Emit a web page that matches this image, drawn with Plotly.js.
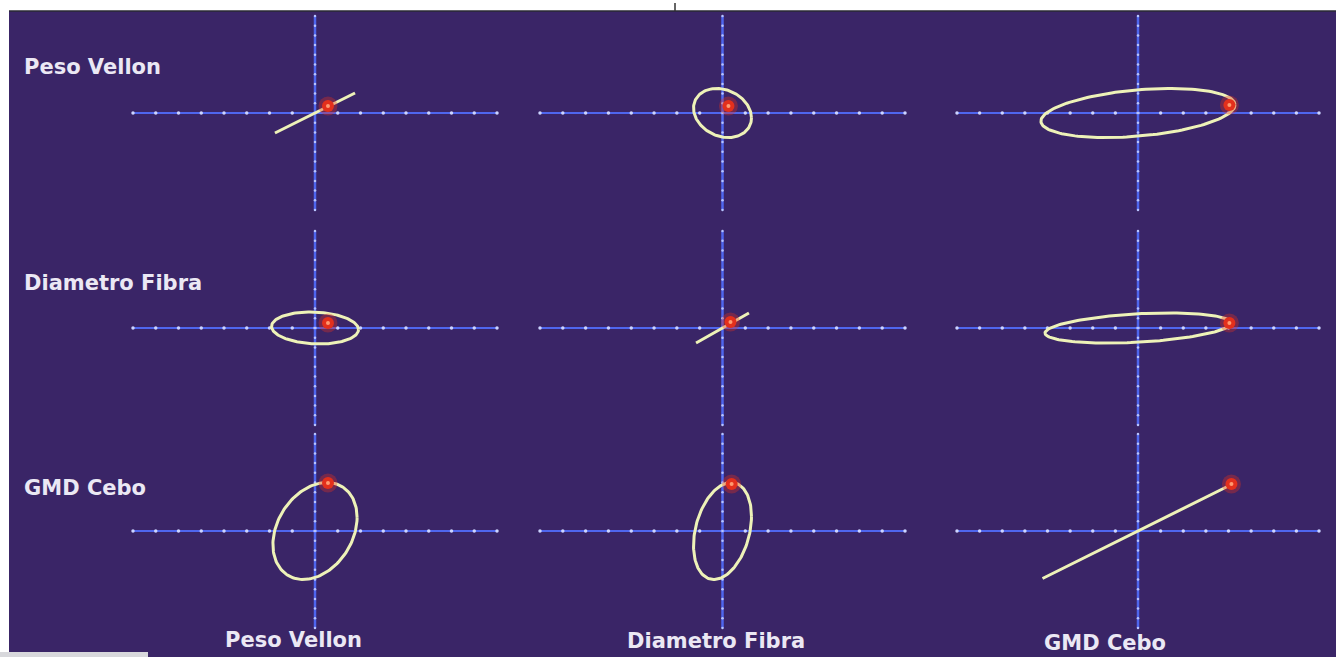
<!DOCTYPE html>
<html>
<head>
<meta charset="utf-8">
<script src="https://cdn.plot.ly/plotly-3.0.1.min.js"></script>
<style>html,body{margin:0;padding:0;background:#fff;}#chart{width:1336px;height:657px;}</style>
</head>
<body>
<div id="chart"></div>
<script>
// ---- data ----
const variables = ["Peso Vellon", "Diametro Fibra", "GMD Cebo"];
const xTicks = [-8,-7,-6,-5,-4,-3,-2,-1,0,1,2,3,4,5,6,7,8];
const yTicks = [-10,-9,-8,-7,-6,-5,-4,-3,-2,-1,0,1,2,3,4,5,6,7,8,9,10];
// panels row-major: row = y variable, column = x variable
const ellipseXAmp = [1.76, 1.27, 4.29, 1.91, 1.16, 4.11, 1.85, 1.27, 4.22];
const ellipseYAmp = [2.06, 2.53, 2.53, 1.65, 1.55, 1.55, 5.00, 5.00, 4.90];
const ellipseCorr = [1.00, -0.20, 0.33, -0.10, 1.00, 0.33, 0.28, 0.30, 1.00];
const dotX = [0.57, 0.26, 4.04, 0.57, 0.35, 4.04, 0.57, 0.40, 4.13];
const dotY = [0.72, 0.72, 0.82, 0.52, 0.62, 0.52, 4.95, 4.85, 4.85];

// ---- layout geometry (pixels) ----
const W = 1336, H = 657;
const px = x => x / W;
const py = y => 1 - y / H;
const colPx = [[133, 497], [540, 905], [957, 1319]];
const rowPx = [[16, 210], [231, 425], [434, 628]];

const bg = '#3a2567';
const axisColor = '#4f66ee';
const tickDot = '#cdd5ff';
const curveColor = '#eef2b8';

const traces = [];
const layout = {
  width: W, height: H,
  margin: {l: 0, r: 0, t: 0, b: 0},
  paper_bgcolor: '#ffffff',
  plot_bgcolor: 'rgba(0,0,0,0)',
  showlegend: false,
  shapes: [
    {type: 'rect', xref: 'paper', yref: 'paper', x0: px(9), x1: 1, y0: 0, y1: py(11),
     fillcolor: bg, line: {width: 0}, layer: 'below'},
    {type: 'line', xref: 'paper', yref: 'paper', x0: px(9), x1: 1, y0: py(11), y1: py(11),
     line: {color: '#2a2a33', width: 1.5}, layer: 'below'},
    {type: 'line', xref: 'paper', yref: 'paper', x0: px(675), x1: px(675), y0: py(3), y1: py(11),
     line: {color: '#333', width: 1.5}, layer: 'below'},
    {type: 'rect', xref: 'paper', yref: 'paper', x0: 0, x1: px(148), y0: 0, y1: py(652),
     fillcolor: '#d8d8dc', line: {width: 0}, layer: 'below'}
  ],
  annotations: []
};

for (let i = 0; i < 9; i++) {
  const r = Math.floor(i / 3), c = i % 3;
  const n = i === 0 ? '' : String(i + 1);
  const xa = 'x' + n, ya = 'y' + n;
  layout['xaxis' + n] = {domain: [px(colPx[c][0]), px(colPx[c][1])], range: [-8, 8],
    visible: false, fixedrange: true, anchor: ya};
  layout['yaxis' + n] = {domain: [py(rowPx[r][1]), py(rowPx[r][0])], range: [-10, 10],
    visible: false, fixedrange: true, anchor: xa};

  // crosshair axes with tick dots
  traces.push({x: xTicks, y: xTicks.map(() => 0), xaxis: xa, yaxis: ya, mode: 'lines+markers',
    line: {color: axisColor, width: 2}, marker: {color: tickDot, size: 3.5},
    hoverinfo: 'skip', cliponaxis: false});
  traces.push({x: yTicks.map(() => 0), y: yTicks, xaxis: xa, yaxis: ya, mode: 'lines+markers',
    line: {color: axisColor, width: 2.5}, marker: {color: '#b8c4ff', size: 2.5},
    hoverinfo: 'skip', cliponaxis: false});

  // correlation ellipse
  const d = Math.acos(Math.max(-1, Math.min(1, ellipseCorr[i])));
  const ex = [], ey = [];
  for (let k = 0; k <= 160; k++) {
    const t = 2 * Math.PI * k / 160;
    ex.push(ellipseXAmp[i] * Math.cos(t));
    ey.push(ellipseYAmp[i] * Math.cos(t - d));
  }
  traces.push({x: ex, y: ey, xaxis: xa, yaxis: ya, mode: 'lines',
    line: {color: curveColor, width: 3}, hoverinfo: 'skip', cliponaxis: false});

  // red point
  traces.push({x: [dotX[i]], y: [dotY[i]], xaxis: xa, yaxis: ya, mode: 'markers',
    marker: {color: 'rgba(230,50,30,0.35)', size: 19}, hoverinfo: 'skip', cliponaxis: false});
  traces.push({x: [dotX[i]], y: [dotY[i]], xaxis: xa, yaxis: ya, mode: 'markers',
    marker: {color: '#e3301c', size: 12}, hoverinfo: 'skip', cliponaxis: false});
  traces.push({x: [dotX[i]], y: [dotY[i]], xaxis: xa, yaxis: ya, mode: 'markers',
    marker: {color: '#ff9a70', size: 4}, hoverinfo: 'skip', cliponaxis: false});
}

const labelFont = {family: 'DejaVu Sans', size: 21, color: '#ebe8f4', weight: 'bold'};
const rowLabelY = [67, 283, 488];
const colLabelX = [293, 716, 1105];
const colLabelY = [640, 641, 643];
variables.forEach((v, k) => {
  layout.annotations.push({text: '<b>' + v + '</b>', xref: 'paper', yref: 'paper',
    x: px(22), y: py(rowLabelY[k]), xanchor: 'left', yanchor: 'middle', showarrow: false, font: labelFont});
  layout.annotations.push({text: '<b>' + v + '</b>', xref: 'paper', yref: 'paper',
    x: px(colLabelX[k]), y: py(colLabelY[k]), xanchor: 'center', yanchor: 'middle', showarrow: false, font: labelFont});
});

Plotly.newPlot('chart', traces, layout, {displayModeBar: false, staticPlot: true});
</script>
</body>
</html>
